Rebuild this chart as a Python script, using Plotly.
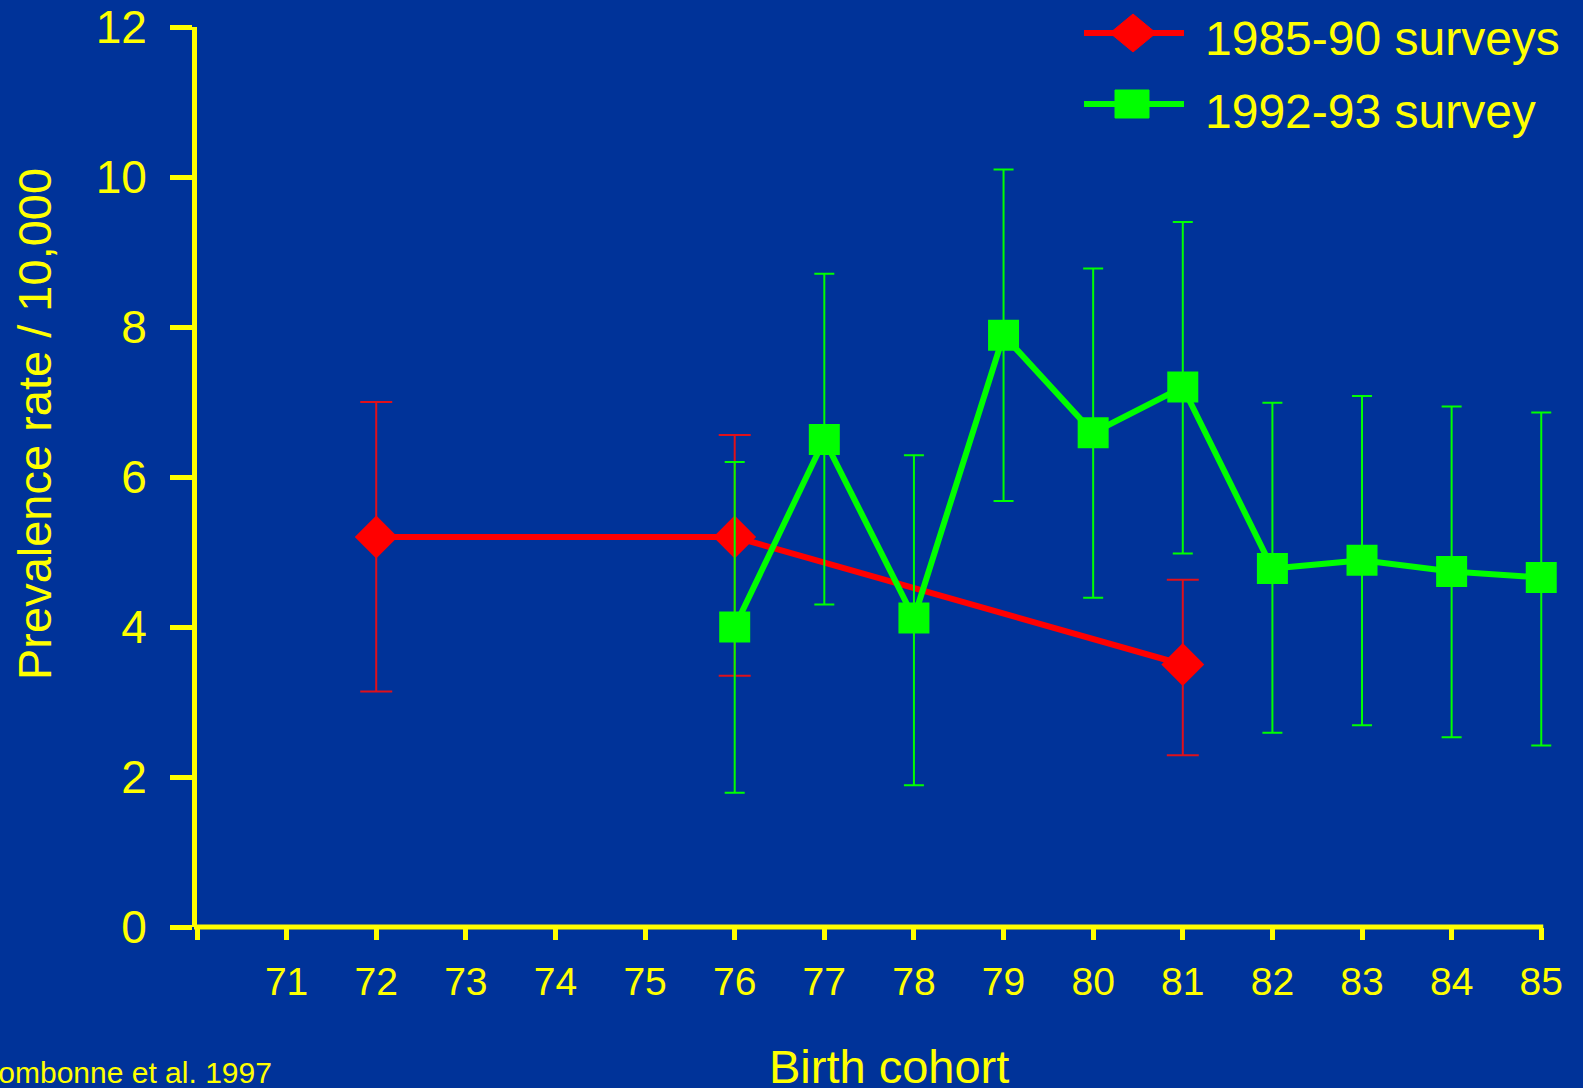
import plotly.graph_objects as go

# ---- data ----
cohort_ticks = [70, 71, 72, 73, 74, 75, 76, 77, 78, 79, 80, 81, 82, 83, 84, 85]
cohort_labels = ["", "71", "72", "73", "74", "75", "76", "77", "78", "79", "80", "81", "82", "83", "84", "85"]

red_name = "1985-90 surveys"
red_x = [72, 76, 81]
red_y = [5.2, 5.2, 3.5]
red_hi = [7.0, 6.56, 4.63]
red_lo = [3.14, 3.35, 2.29]

green_name = "1992-93 survey"
green_x = [76, 77, 78, 79, 80, 81, 82, 83, 84, 85]
green_y = [4.0, 6.5, 4.12, 7.89, 6.59, 7.2, 4.78, 4.89, 4.74, 4.66]
green_hi = [6.2, 8.71, 6.29, 10.1, 8.78, 9.4, 6.99, 7.08, 6.94, 6.86]
green_lo = [1.79, 4.3, 1.89, 5.68, 4.39, 4.98, 2.59, 2.69, 2.53, 2.42]

y_ticks = [0, 2, 4, 6, 8, 10, 12]

BG = "#003399"
YEL = "#FFFF00"
RED = "#FF0000"
GRN = "#00FF00"
FONT = "Liberation Sans, Arial, sans-serif"

W, H = 1583, 1088
X_PAD = 0.12  # extra room right of last cohort so error-bar caps are not clipped
ML, MR, MT, MB = 197, 31, 27, 161
PW, PH = W - ML - MR, H - MT - MB
x_lo, x_hi = cohort_ticks[0], cohort_ticks[-1] + X_PAD


def px(X):
    return (X - ML) / PW


def py(Y):
    return (H - MB - Y) / PH


fig = go.Figure()

fig.add_trace(go.Scatter(
    x=red_x, y=red_y, mode="lines+markers", name=red_name,
    line=dict(color=RED, width=6),
    marker=dict(symbol="diamond", size=33, color=RED),
    error_y=dict(type="data", symmetric=False,
                 array=[h - v for h, v in zip(red_hi, red_y)],
                 arrayminus=[v - l for v, l in zip(red_y, red_lo)],
                 color="#E0101A", thickness=2, width=16),
    cliponaxis=False,
))

fig.add_trace(go.Scatter(
    x=green_x, y=green_y, mode="lines+markers", name=green_name,
    line=dict(color=GRN, width=6),
    marker=dict(symbol="square", size=31, color=GRN),
    error_y=dict(type="data", symmetric=False,
                 array=[h - v for h, v in zip(green_hi, green_y)],
                 arrayminus=[v - l for v, l in zip(green_y, green_lo)],
                 color=GRN, thickness=2, width=10),
    cliponaxis=False,
))

# ---- x-axis line (ends at last cohort tick), drawn in paper space so it is not clipped ----
x_end = (cohort_ticks[-1] - x_lo) / (x_hi - x_lo)
shapes = [dict(type="line", xref="paper", yref="paper",
               x0=-3 / PW, x1=x_end + 2 / PW, y0=0, y1=0,
               line=dict(color=YEL, width=5), layer="above")]

# ---- custom legend (decoration) ----
annotations = []
legend_rows = [
    (red_name, RED, "diamond", 33, 39),
    (green_name, GRN, "square", 104, 111),
]
for name, col, sym, yc, ytxt in legend_rows:
    shapes.append(dict(type="line", xref="paper", yref="paper",
                       x0=px(1084), x1=px(1184), y0=py(yc), y1=py(yc),
                       line=dict(color=col, width=6), layer="above"))
    if sym == "diamond":
        cx, hw, hh = 1133, 23, 19
        path = (f"M {px(cx - hw)},{py(yc)} L {px(cx)},{py(yc - hh)} "
                f"L {px(cx + hw)},{py(yc)} L {px(cx)},{py(yc + hh)} Z")
        shapes.append(dict(type="path", xref="paper", yref="paper", path=path,
                           fillcolor=col, line=dict(color=col, width=1), layer="above"))
    else:
        cx, hw, hh = 1132, 17, 14
        shapes.append(dict(type="rect", xref="paper", yref="paper",
                           x0=px(cx - hw), x1=px(cx + hw), y0=py(yc - hh), y1=py(yc + hh),
                           fillcolor=col, line=dict(color=col, width=1), layer="above"))
    annotations.append(dict(text=name, xref="paper", yref="paper",
                            x=px(1203), y=py(ytxt), xanchor="left", yanchor="middle",
                            showarrow=False, font=dict(size=48, color=YEL, family=FONT)))

annotations += [
    dict(text="Birth cohort", xref="paper", yref="paper",
         x=px(889), y=py(1066), xanchor="center", yanchor="middle",
         showarrow=False, font=dict(size=47, color=YEL, family=FONT)),
    dict(text="Prevalence rate / 10,000", xref="paper", yref="paper",
         x=px(34), y=py(424), xanchor="center", yanchor="middle",
         textangle=-90, showarrow=False, font=dict(size=47, color=YEL, family=FONT)),
    dict(text="Fombonne et al. 1997", xref="paper", yref="paper",
         x=px(274), y=py(1072), xanchor="right", yanchor="middle",
         showarrow=False, font=dict(size=30, color=YEL, family=FONT)),
]

fig.update_layout(
    width=W, height=H,
    paper_bgcolor=BG, plot_bgcolor=BG,
    margin=dict(l=ML, r=MR, t=MT, b=MB, autoexpand=False),
    font=dict(family=FONT, color=YEL),
    showlegend=False,
    xaxis=dict(
        range=[x_lo, x_hi],
        tickvals=cohort_ticks, ticktext=cohort_labels,
        showline=False, automargin=False,
        ticks="outside", ticklen=12, tickwidth=5, tickcolor=YEL,
        showgrid=False, zeroline=False,
        tickfont=dict(size=39, color=YEL, family=FONT),
        ticklabelstandoff=8,
    ),
    yaxis=dict(
        range=[0, 12], tickvals=y_ticks,
        showline=True, linecolor=YEL, linewidth=5, automargin=False,
        ticks="outside", ticklen=22, tickwidth=5, tickcolor=YEL,
        showgrid=False, zeroline=False,
        tickfont=dict(size=46, color=YEL, family=FONT),
        ticklabelstandoff=14,
    ),
    shapes=shapes,
    annotations=annotations,
)

fig.write_html("out.html", config={"displayModeBar": False},
               post_script="document.body.style.margin='0';document.body.style.padding='0';document.body.style.background='#003399';")
